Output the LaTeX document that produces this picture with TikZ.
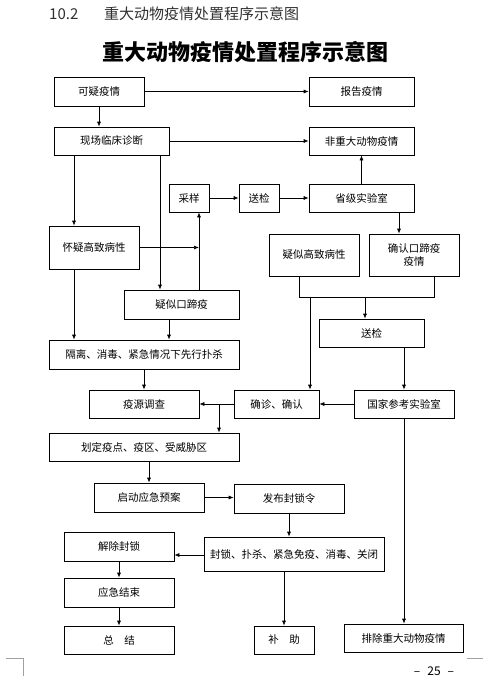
\documentclass[tikz,border=0pt]{standalone}
\usepackage{fontspec}
\setmainfont{Noto Sans CJK SC}
\usepackage{xcolor}
\usepackage{tikz}
\usetikzlibrary{arrows.meta, positioning, calc}
\definecolor{boxline}{HTML}{000000}
\definecolor{headgray}{HTML}{303030}
\definecolor{markgray}{HTML}{A0A0A0}

\begin{document}
\begin{tikzpicture}[x=1pt, y=-1pt,
    proc/.style={draw=boxline, line width=0.7pt, inner sep=1pt, align=center, font=\fontsize{10.5}{13}\selectfont},
    link/.style={draw=boxline, line width=0.7pt},
    arr/.style={link, -{Latex[length=5pt,width=4pt]}}]
  \useasboundingbox (0,0) rectangle (494,688);

  % Header and title
  \node[anchor=west, inner sep=0, text=headgray, font=\fontsize{15}{18}\selectfont] (hdrnum) at (49,14) {10.2};
  \node[anchor=west, inner sep=0, text=headgray, font=\fontsize{15}{18}\selectfont] (hdrtxt) at (104,14) {重大动物疫情处置程序示意图};
  \node[inner sep=0, font=\fontsize{22}{26}\selectfont\bfseries] (title) at (245,52) {重大动物疫情处置程序示意图};

  % Boxes, upper part
  \node[proc, minimum width=90pt, minimum height=29pt] (kyyq) at (99,91.5) {可疑疫情};
  \node[proc, minimum width=105pt, minimum height=29pt] (bgyq) at (361.5,91.5) {报告疫情};
  \node[proc, minimum width=115pt, minimum height=28pt] (xclc) at (111.5,141) {现场临床诊断};
  \node[proc, minimum width=105pt, minimum height=28pt] (fzd) at (361.5,141) {非重大动物疫情};
  \node[proc, minimum width=40pt, minimum height=28pt] (cy) at (189,198) {采样};
  \node[proc, minimum width=40pt, minimum height=28pt] (sja) at (259,198) {送检};
  \node[proc, minimum width=105pt, minimum height=28pt] (sjsys) at (361.5,198) {省级实验室};
  \node[proc, minimum width=90pt, minimum height=43pt] (hygz) at (94,247.5) {怀疑高致病性};
  \node[proc, minimum width=115pt, minimum height=29pt] (ysk) at (181.5,304.5) {疑似口蹄疫};
  \node[proc, minimum width=90pt, minimum height=42pt] (ysgz) at (314,255) {疑似高致病性};
  \node[proc, minimum width=90pt, minimum height=42pt] (qrk) at (414,255) {确认口蹄疫\\疫情};
  \node[proc, minimum width=105pt, minimum height=28pt] (sjb) at (371.5,333) {送检};

  % Boxes, middle part
  \node[proc, minimum width=190pt, minimum height=29pt] (gl) at (144,354.5) {隔离、消毒、紧急情况下先行扑杀};
  \node[proc, minimum width=110pt, minimum height=28pt] (yydc) at (144,404) {疫源调查};
  \node[proc, minimum width=85pt, minimum height=28pt] (qz) at (276.5,404) {确诊、确认};
  \node[proc, minimum width=100pt, minimum height=28pt] (gjck) at (404,404) {国家参考实验室};
  \node[proc, minimum width=190pt, minimum height=28pt] (hd) at (144,447) {划定疫点、疫区、受威胁区};
  \node[proc, minimum width=110pt, minimum height=29pt] (qd) at (149,497.5) {启动应急预案};
  \node[proc, minimum width=110pt, minimum height=29pt] (fb) at (289,498.5) {发布封锁令};

  % Boxes, lower part
  \node[proc, minimum width=180pt, minimum height=34pt] (fs) at (294,554) {封锁、扑杀、紧急免疫、消毒、关闭};
  \node[proc, minimum width=110pt, minimum height=29pt] (jc) at (119,546.5) {解除封锁};
  \node[proc, minimum width=110pt, minimum height=29pt] (yjjs) at (119,592.5) {应急结束};
  \node[proc, minimum width=110pt, minimum height=28pt] (zj) at (119,640) {总\hspace{1em}结};
  \node[proc, minimum width=60pt, minimum height=28pt] (bz) at (284,640) {补\hspace{1em}助};
  \node[proc, minimum width=119pt, minimum height=28pt] (pc) at (403.5,638) {排除重大动物疫情};

  % Columns and bracket used by the connectors
  \coordinate (colA) at (74,0);
  \coordinate (colB) at (160,0);
  \coordinate (colC) at (199,0);
  \coordinate (colD) at (169,0);
  \coordinate (colE) at (399,0);
  \coordinate (colF) at (365,0);
  \coordinate (colG) at (310,0);
  \coordinate (colH) at (219,0);
  \coordinate (brL) at (299,297);
  \coordinate (brR) at (434,297);

  % Arrows
  \draw[arr] (kyyq.east) -- (bgyq.west);
  \draw[arr] (kyyq.south) -- (kyyq.south |- xclc.north);
  \draw[arr] (xclc.east) -- (fzd.west);
  \draw[arr] (cy.east) -- (sja.west);
  \draw[arr] (sja.east) -- (sjsys.west);
  \draw[arr] (sjsys.north) -- (fzd.south);
  \draw[arr] (xclc.south -| colA) -- (hygz.north -| colA);
  \draw[arr] (xclc.south -| colB) -- (ysk.north -| colB);
  \draw[arr] (hygz.east) -- (hygz.east -| colC);
  \draw[arr] (ysk.north -| colC) -- (cy.south -| colC);
  \draw[arr] (sjsys.south -| colE) -- (qrk.north -| colE);
  \draw[link] (ysgz.south -| brL) -- (brL) -- (brR) -- (qrk.south -| brR);
  \draw[arr] (brL -| colF) -- (sjb.north -| colF);
  \draw[arr] (brL -| colG) -- (qz.north -| colG);
  \draw[arr] (sjb.south -| gjck) -- (gjck.north);
  \draw[arr] (hygz.south -| colA) -- (gl.north -| colA);
  \draw[arr] (ysk.south -| colD) -- (gl.north -| colD);
  \draw[arr] (gl.south) -- (yydc.north);
  \draw[arr] (gjck.west) -- (qz.east);
  \draw[arr] (qz.west) -- (yydc.east);
  \draw[arr] (yydc.east -| colH) -- (hd.north -| colH);
  \draw[arr] (hd.south -| qd) -- (qd.north);
  \draw[arr] (qd.east) -- (qd.east -| fb.west);
  \draw[arr] (fb.south) -- (fb.south |- fs.north);
  \draw[arr] ([yshift=-1pt]fs.west) -- ([yshift=-1pt]fs.west -| jc.east);
  \draw[arr] (jc.south) -- (yjjs.north);
  \draw[arr] (yjjs.south) -- (zj.north);
  \draw[arr] (fs.south -| bz) -- (bz.north);
  \draw[arr] (gjck.south) -- (gjck.south |- pc.north);

  % Page marks and number
  \draw[markgray, line width=0.8pt] (6,658) -- (23,658) -- (23,676);
  \draw[markgray, line width=0.8pt] (467,658) -- (483,658);
  \node[inner sep=0, font=\fontsize{12}{14}\selectfont] (pgnum) at (434,671) {\textendash\hspace{7pt}25\hspace{7pt}\textendash};
\end{tikzpicture}
\end{document}
